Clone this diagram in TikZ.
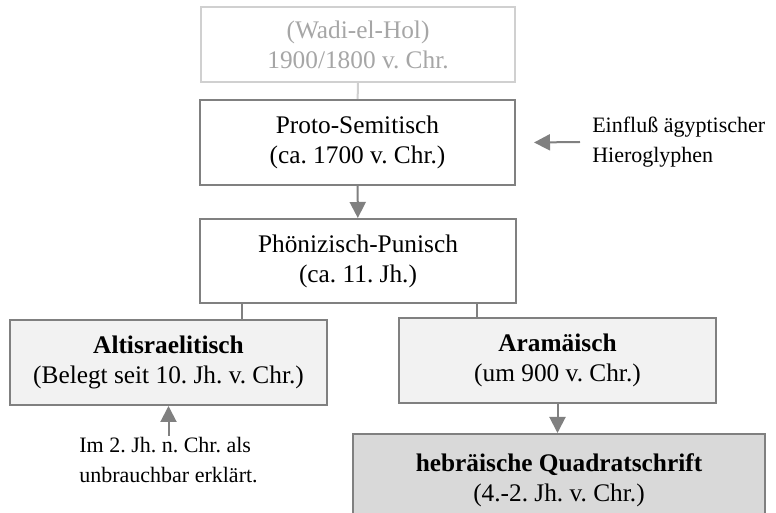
\documentclass[tikz,border=0pt]{standalone}
\usepackage{fontspec}
\setmainfont{Liberation Serif}
\usepackage{xcolor}
\usetikzlibrary{arrows.meta}
\frenchspacing

\definecolor{linegray}{HTML}{808080}
\definecolor{palegray}{HTML}{D0D0D0}
\definecolor{textpale}{HTML}{A6A6A6}
\definecolor{altfill}{HTML}{F2F2F2}
\definecolor{hebfill}{HTML}{D9D9D9}

\tikzset{
  stage/.style={draw=linegray, line width=1.5pt, align=center, inner sep=0pt,
    font=\fontsize{19}{22.5}\selectfont},
  note/.style={align=left, inner sep=0.75pt, font=\fontsize{16.5}{22.5}\selectfont},
  link/.style={draw=linegray, line width=1.5pt},
  flow/.style={link, -{Triangle[length=12pt,width=12pt]}},
}

\begin{document}
\begin{tikzpicture}[x=0.75pt,y=0.75pt,yscale=-1,xscale=1]
\useasboundingbox (0,0) rectangle (776,513);

%Shape: Rectangle [Wadi-el-Hol]
\node (wadi) [stage, draw=palegray, text=textpale, minimum width=235.5pt, minimum height=56.25pt] at (358,44.5) {(Wadi-el-Hol)\\1900/1800 v. Chr.};
%Shape: Rectangle [Proto-Semitisch]
\node (proto) [stage, minimum width=236.25pt, minimum height=63.75pt] at (357.5,142.5) {Proto-Semitisch\\(ca. 1700 v. Chr.)};
%Shape: Rectangle [Phoenizisch]
\node (phoen) [stage, minimum width=237pt, minimum height=63pt] at (358,261) {Phönizisch-Punisch\\(ca. 11. Jh.)};
%Shape: Rectangle [Altisraelitisch]
\node (alt) [stage, fill=altfill, minimum width=237.75pt, minimum height=63.75pt] at (168.5,362.5) {\textbf{Altisraelitisch}\\(Belegt seit 10. Jh. v. Chr.)};
%Shape: Rectangle [Aramaeisch]
\node (aram) [stage, fill=altfill, minimum width=237.75pt, minimum height=63.75pt] at (557.5,360.5) {\textbf{Aramäisch}\\(um 900 v. Chr.)};
%Shape: Rectangle [Quadratschrift]
\node (hebr) [stage, fill=hebfill, minimum width=309pt, minimum height=69pt] at (559,480) {\textbf{hebräische Quadratschrift}\\(4.-2. Jh. v. Chr.)};

% Text Node
\node (einfluss) [note, anchor=west, inner sep=9pt] at (580,142) {Einfluß ägyptischer\\Hieroglyphen};
% Text Node
\node (unbrauch) [note, anchor=north] at (168.5,436) {Im 2. Jh. n. Chr. als\\unbrauchbar erklärt.};

%Straight Lines
\draw [link, draw=palegray] (wadi) -- (proto);
\draw [flow] (proto) -- (phoen);
\draw [flow] (einfluss.west) -- ([xshift=13.5pt]proto.east);
\draw [link] ([xshift=-87pt]phoen.south) -- ([xshift=-87pt]phoen.south |- alt.north);
\draw [link] ([xshift=89pt]phoen.south) -- ([xshift=89pt]phoen.south |- aram.north);
\draw [flow] (aram.south) -- (aram.south |- hebr.north);
\draw [flow] (unbrauch.north) -- (alt.south);

\end{tikzpicture}
\end{document}
